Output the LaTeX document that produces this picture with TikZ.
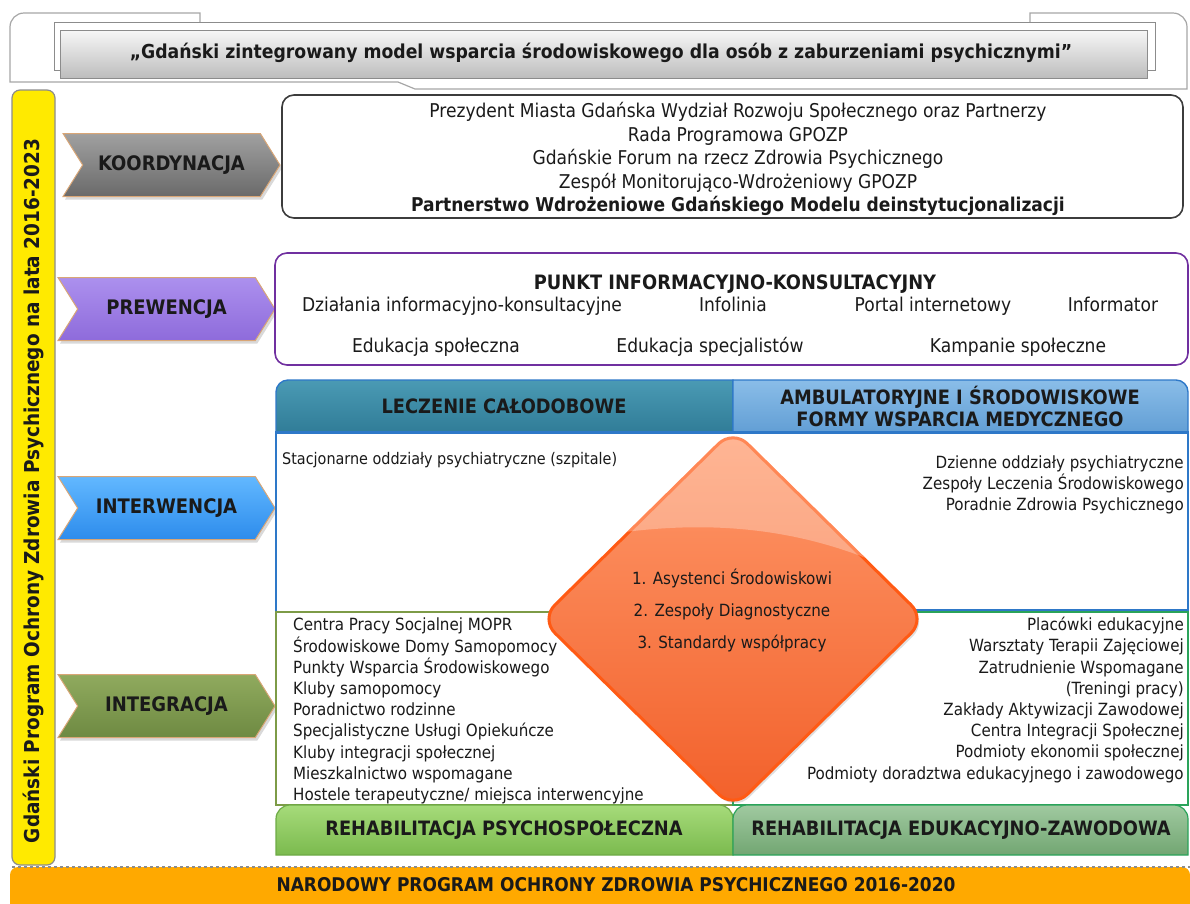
\documentclass[tikz,border=0pt]{standalone}
\usepackage{fontspec}
\setmainfont{DejaVu Sans Condensed}
\usetikzlibrary{shapes.geometric,shapes.symbols,shadows}
\definecolor{txtc}{HTML}{1A1A1A}
\definecolor{framec}{HTML}{A6A6A6}
\definecolor{hdrTop}{HTML}{F7F7F7}
\definecolor{hdrBot}{HTML}{BDBDBD}
\definecolor{hdrLine}{HTML}{8C8C8C}
\definecolor{koordTop}{HTML}{A0A0A0}
\definecolor{koordBot}{HTML}{6A6A6A}
\definecolor{prewTop}{HTML}{AC90EE}
\definecolor{prewBot}{HTML}{8E6BDB}
\definecolor{interTop}{HTML}{62B8FF}
\definecolor{interBot}{HTML}{2D8CEC}
\definecolor{integTop}{HTML}{90AA5E}
\definecolor{integBot}{HTML}{6E8A42}
\definecolor{chevline}{HTML}{D9A676}
\definecolor{koordLine}{HTML}{3C3C3C}
\definecolor{prewLine}{HTML}{7030A0}
\definecolor{lecTop}{HTML}{4A9AB4}
\definecolor{lecBot}{HTML}{2C7893}
\definecolor{ambTop}{HTML}{8ABDE8}
\definecolor{ambBot}{HTML}{5C9AD2}
\definecolor{blueLine}{HTML}{2E78C8}
\definecolor{oliveLine}{HTML}{7D9B47}
\definecolor{greenLine}{HTML}{2AA35A}
\definecolor{rehLTop}{HTML}{A6DB7A}
\definecolor{rehLBot}{HTML}{7BBA4E}
\definecolor{rehLLine}{HTML}{6DAA45}
\definecolor{rehRTop}{HTML}{A0C9A0}
\definecolor{rehRBot}{HTML}{72A672}
\definecolor{bandC}{HTML}{FFA900}
\definecolor{yFill}{HTML}{FFEA00}
\definecolor{yLine}{HTML}{8C8C8C}
\definecolor{diaTop}{HTML}{FF9A6C}
\definecolor{diaBot}{HTML}{F2602A}
\definecolor{diaLine}{HTML}{FF5A14}
\begin{document}
\begin{tikzpicture}[x=1pt,y=-1pt,
  body/.style={font=\fontsize{16.8}{21.2}\selectfont, text=txtc, inner sep=0pt},
  bodyL/.style={font=\fontsize{19}{23.5}\selectfont, text=txtc, inner sep=0pt},
  hd/.style={font=\bfseries\fontsize{19.8}{22}\selectfont, text=txtc, inner sep=0pt},
  chev/.style={signal, signal from=west, signal to=east, signal pointer angle=116,
    minimum width=217pt, minimum height=63pt, inner sep=0pt, draw=chevline, line width=1pt,
    font=\bfseries\fontsize{20}{22}\selectfont, text=txtc,
    drop shadow={opacity=0.3, shadow xshift=2pt, shadow yshift=-3pt}},
  panel/.style={draw, fill=white, rounded corners=12pt, line width=1.6pt, inner sep=0pt},
]
\useasboundingbox (0,0) rectangle (1190,903);

% ---- top frame ----
\draw[framec, line width=1.2pt] (200,22) -- (200,13) -- (24,13)
   arc[start angle=270, end angle=180, radius=14] -- (10,82) -- (398,82) -- (415,89) -- (1187,89)
   -- (1187,27) arc[start angle=0, end angle=-90, radius=14] -- (1030,13) -- (1030,22);
\draw[hdrLine, fill=white, line width=1pt] (54,22) rectangle (1155,70);
\node[draw=hdrLine, line width=1pt, top color=hdrTop, bottom color=hdrBot,
      minimum width=1087pt, minimum height=48pt, inner sep=0pt] (hdrbox) at (603.5,54) {};
\node[font=\bfseries\fontsize{19.2}{22}\selectfont, text=txtc] (title) at (601,53)
  {„Gdański zintegrowany model wsparcia środowiskowego dla osób z zaburzeniami psychicznymi"};

% ---- yellow bar ----
\node[draw=yLine, fill=yFill, rounded corners=8pt, line width=1.2pt,
      minimum width=43pt, minimum height=775pt, inner sep=0pt] (ybar) at (33.5,477.5) {};
\node[rotate=90, font=\bfseries\fontsize{20.5}{22}\selectfont, text=txtc] (ytext) at (33,491)
  {Gdański Program Ochrony Zdrowia Psychicznego na lata 2016-2023};

% ---- chevrons ----
\node[chev, top color=koordTop, bottom color=koordBot] (koord) at (171.5,165) {KOORDYNACJA};
\node[chev, top color=prewTop, bottom color=prewBot] (prew) at (166.5,309) {PREWENCJA};
\node[chev, top color=interTop, bottom color=interBot] (inter) at (166.5,508) {INTERWENCJA};
\node[chev, top color=integTop, bottom color=integBot] (integ) at (166.5,706) {INTEGRACJA};

% ---- koordynacja panel ----
\node[panel, draw=koordLine, minimum width=901pt, minimum height=123pt] (koordbox) at (732.5,156.5) {};
\node[bodyL, align=center] (koordtxt) at (738,159)
  {Prezydent Miasta Gdańska Wydział Rozwoju Społecznego oraz Partnerzy\\
   Rada Programowa GPOZP\\
   Gdańskie Forum na rzecz Zdrowia Psychicznego\\
   Zespół Monitorująco-Wdrożeniowy GPOZP\\
   \textbf{Partnerstwo Wdrożeniowe Gdańskiego Modelu deinstytucjonalizacji}};

% ---- prewencja panel ----
\node[panel, draw=prewLine, minimum width=913pt, minimum height=112pt] (prewbox) at (731.5,309) {};
\node[hd, anchor=base] (punkt) at (735,289) {PUNKT INFORMACYJNO-KONSULTACYJNY};
\node[bodyL, anchor=base] (p1) at (462,311) {Działania informacyjno-konsultacyjne};
\node[bodyL, anchor=base] (p2) at (733,311) {Infolinia};
\node[bodyL, anchor=base] (p3) at (933,311) {Portal internetowy};
\node[bodyL, anchor=base] (p4) at (1113,311) {Informator};
\node[bodyL, anchor=base] (p5) at (436,352) {Edukacja społeczna};
\node[bodyL, anchor=base] (p6) at (710,352) {Edukacja specjalistów};
\node[bodyL, anchor=base] (p7) at (1018,352) {Kampanie społeczne};

% ---- treatment headers ----
\shade[top color=lecTop, bottom color=lecBot, draw=blueLine, line width=1.4pt]
  (276,440) -- (276,392) arc[start angle=180, end angle=270, radius=12] -- (733,380) -- (733,440) -- cycle;
\shade[top color=ambTop, bottom color=ambBot, draw=blueLine, line width=1.4pt]
  (733,440) -- (733,380) -- (1176,380) arc[start angle=270, end angle=360, radius=12] -- (1188,440) -- cycle;

% ---- body boxes ----
\node[draw=blueLine, fill=white, line width=1.6pt, minimum width=912pt, minimum height=180pt, inner sep=0pt] (treatbox) at (732,522) {};
\draw[blueLine, line width=3pt] (276,432) -- (1188,432);
\node[draw=oliveLine, fill=white, line width=1.6pt, minimum width=457pt, minimum height=193pt, inner sep=0pt] (psybox) at (504.5,708.5) {};
\node[draw=greenLine, fill=white, line width=1.6pt, minimum width=455pt, minimum height=193pt, inner sep=0pt] (zawbox) at (960.5,708.5) {};
\draw[blueLine, line width=1.4pt] (733,610) -- (1188,610);

\node[hd] (lec) at (504,406) {LECZENIE CAŁODOBOWE};
\node[hd, align=center] (amb) at (960,406)
  {AMBULATORYJNE I ŚRODOWISKOWE\\FORMY WSPARCIA MEDYCZNEGO};

% ---- rehabilitation headers ----
\shade[top color=rehLTop, bottom color=rehLBot, draw=rehLLine, line width=1.2pt]
  (276,855) -- (276,819) arc[start angle=180, end angle=270, radius=14] -- (719,805)
  arc[start angle=270, end angle=360, radius=14] -- (733,855) -- cycle;
\shade[top color=rehRTop, bottom color=rehRBot, draw=greenLine, line width=1.2pt]
  (733,855) -- (733,819) arc[start angle=180, end angle=270, radius=14] -- (1174,805)
  arc[start angle=270, end angle=360, radius=14] -- (1188,855) -- cycle;
\node[hd] (rehl) at (504,830) {REHABILITACJA PSYCHOSPOŁECZNA};
\node[hd] (rehr) at (961,830) {REHABILITACJA EDUKACYJNO-ZAWODOWA};

% ---- lists ----
\node[body, anchor=west, font=\fontsize{16}{21.2}\selectfont] (stac) at (282,460) {Stacjonarne oddziały psychiatryczne (szpitale)};
\node[body, align=right, anchor=east] (amblist) at (1184,485)
  {Dzienne oddziały psychiatryczne\\Zespoły Leczenia Środowiskowego\\Poradnie Zdrowia Psychicznego};
\node[body, align=left, anchor=west] (psylist) at (293,711)
  {Centra Pracy Socjalnej MOPR\\
   Środowiskowe Domy Samopomocy\\
   Punkty Wsparcia Środowiskowego\\
   Kluby samopomocy\\
   Poradnictwo rodzinne\\
   Specjalistyczne Usługi Opiekuńcze\\
   Kluby integracji społecznej\\
   Mieszkalnictwo wspomagane\\
   Hostele terapeutyczne/ miejsca interwencyjne};
\node[body, align=right, anchor=east] (zawlist) at (1184,700)
  {Placówki edukacyjne\\
   Warsztaty Terapii Zajęciowej\\
   Zatrudnienie Wspomagane\\
   (Treningi pracy)\\
   Zakłady Aktywizacji Zawodowej\\
   Centra Integracji Społecznej\\
   Podmioty ekonomii społecznej\\
   Podmioty doradztwa edukacyjnego i zawodowego};

% ---- central diamond ----
\node[diamond, aspect=1, minimum width=386pt, minimum height=380pt, inner sep=0pt,
      rounded corners=20pt, top color=diaTop, bottom color=diaBot, draw=diaLine, line width=3pt,
      drop shadow={opacity=0.25, shadow xshift=2pt, shadow yshift=-3pt}] (core) at (733,619) {};
\begin{scope}
  \clip[rounded corners=20pt] (core.north) -- (core.east) -- (core.south) -- (core.west) -- cycle;
  \fill[white, opacity=0.28] (540,410) -- (950,410) -- (950,600)
     .. controls (860,545) and (760,515) .. (625,532) -- cycle;
\end{scope}
\node[font=\fontsize{16.8}{32}\selectfont, text=txtc, align=center, inner sep=0pt] (coretxt) at (732,610)
  {1. Asystenci Środowiskowi\\2. Zespoły Diagnostyczne\\3. Standardy współpracy};

% ---- bottom band ----
\fill[bandC, rounded corners=8pt] (10,867) rectangle (1190,915);
\draw[hdrLine, dashed, line width=1.2pt] (12,867) -- (1190,867);
\node[font=\bfseries\fontsize{18.9}{22}\selectfont, text=txtc] (nat) at (616,885)
  {NARODOWY PROGRAM OCHRONY ZDROWIA PSYCHICZNEGO 2016-2020};
\end{tikzpicture}
\end{document}
